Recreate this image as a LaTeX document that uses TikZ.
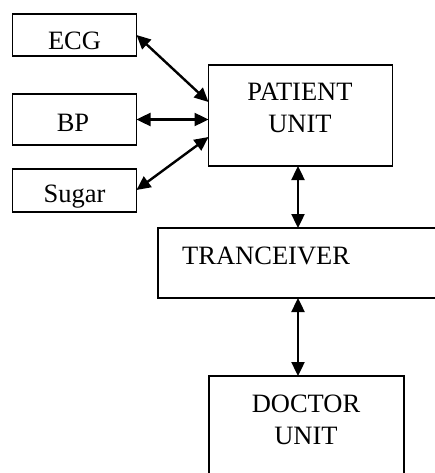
\documentclass[tikz,border=0pt]{standalone}
\usepackage{fontspec}
\setmainfont{Liberation Serif}
\usetikzlibrary{arrows.meta}

\begin{document}
\begin{tikzpicture}[x=1pt, y=-1pt,
  every node/.style={font=\fontsize{26.5}{32}\selectfont, inner sep=0pt},
  box/.style={draw, line width=1.5pt, outer sep=0pt},
  link/.style={<->, line width=2.4pt, >={Triangle[length=14pt, width=13pt]}}]
  \useasboundingbox (0,0) rectangle (435,473);
  \clip (0,0) rectangle (435,473);
  % Sensors
  \node[box, minimum width=124pt, minimum height=42pt] (ecg) at (74.5,35) {};
  \node[anchor=north] (ecgtext) at (74.5,32) {ECG};
  \node[box, minimum width=124pt, minimum height=51pt] (bp) at (74.5,119.5) {};
  \node[anchor=north] (bptext) at (73,114) {BP};
  \node[box, minimum width=124pt, minimum height=43pt] (sugar) at (74.5,190.5) {};
  \node[anchor=north] (sugartext) at (74.5,185) {Sugar};
  % Units
  \node[box, minimum width=184pt, minimum height=101pt] (patient) at (300.5,115.5) {};
  \node[anchor=north, align=center] (patienttext) at (300,83) {PATIENT\\UNIT};
  \node[box, minimum width=292pt, minimum height=70pt] (trans) at (304,263) {};
  \node[anchor=north west] (transtext) at (182,247) {TRANCEIVER};
  \node[box, minimum width=195pt, minimum height=114pt] (doctor) at (306.5,433) {};
  \node[anchor=north, align=center] (doctortext) at (306,395) {DOCTOR\\UNIT};
  % Links
  \draw[link] (ecg.east) -- ([yshift=13.5pt]patient.west);
  \draw[link] (bp.east) -- (bp.east -| patient.west);
  \draw[link] ([yshift=0.5pt]sugar.east) -- ([yshift=-21.5pt]patient.west);
  \coordinate (up) at ([xshift=-2.5pt]patient.south);
  \draw[link] (up) -- (up |- trans.north);
  \draw[link] (up |- trans.south) -- (up |- doctor.north);
\end{tikzpicture}
\end{document}
